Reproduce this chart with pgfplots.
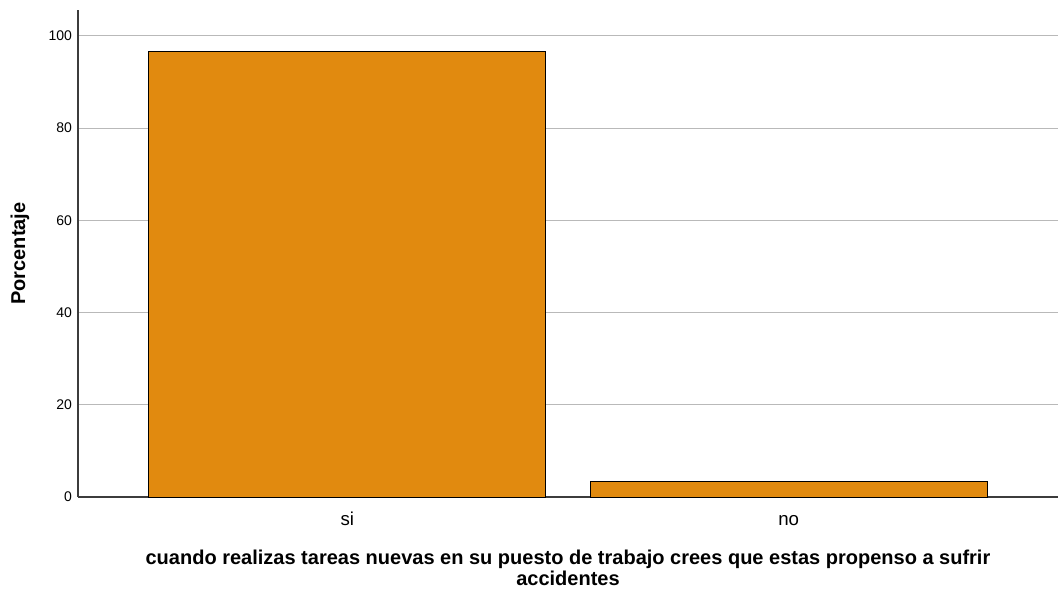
\documentclass[border=0pt]{standalone}
\usepackage{pgfplots}
\pgfplotsset{compat=1.18}
\usepackage{fontspec}
\setmainfont{Liberation Sans}
\definecolor{barcol}{RGB}{225,138,15}
\definecolor{gridcol}{RGB}{185,185,185}
\definecolor{axcol}{RGB}{60,60,60}
\begin{document}
\begin{tikzpicture}
% fixed page frame: axis box is 735pt x 365.25pt at the origin
\useasboundingbox (-58.5pt,-69.75pt) rectangle (735.75pt,372.75pt);
\begin{axis}[
  at={(0,0)}, anchor=south west,
  scale only axis,
  width=735pt, height=365.25pt,
  xmin=-0.61, xmax=1.61,
  ymin=0, ymax=105.6,
  axis x line*=bottom, axis y line*=left,
  axis line style={axcol, line width=0.9pt},
  xtick={0,1}, xticklabels={si,no},
  ytick={0,20,40,60,80,100},
  major tick length=0pt,
  ymajorgrids, grid style={gridcol, line width=0.8pt},
  /pgf/number format/assume math mode=true,
  yticklabel style={font=\fontsize{10.5}{12}\selectfont, xshift=-1pt},
  xticklabel style={font=\fontsize{14}{15}\selectfont, anchor=base, yshift=-21.5pt},
  clip=false,
]
\addplot[ybar, bar width=0.9, fill=barcol, draw=black, line width=0.7pt] coordinates {(0,96.6) (1,3.4)};
\end{axis}
\node[rotate=90, font=\fontsize{15}{16}\selectfont\bfseries] at (-43.5pt,182.6pt) {Porcentaje};
\node[align=center, font=\fontsize{15}{15.8}\selectfont\bfseries] at (367.5pt,-52.9pt)
  {cuando realizas tareas nuevas en su puesto de trabajo crees que estas propenso a sufrir\\accidentes};
\end{tikzpicture}
\end{document}
